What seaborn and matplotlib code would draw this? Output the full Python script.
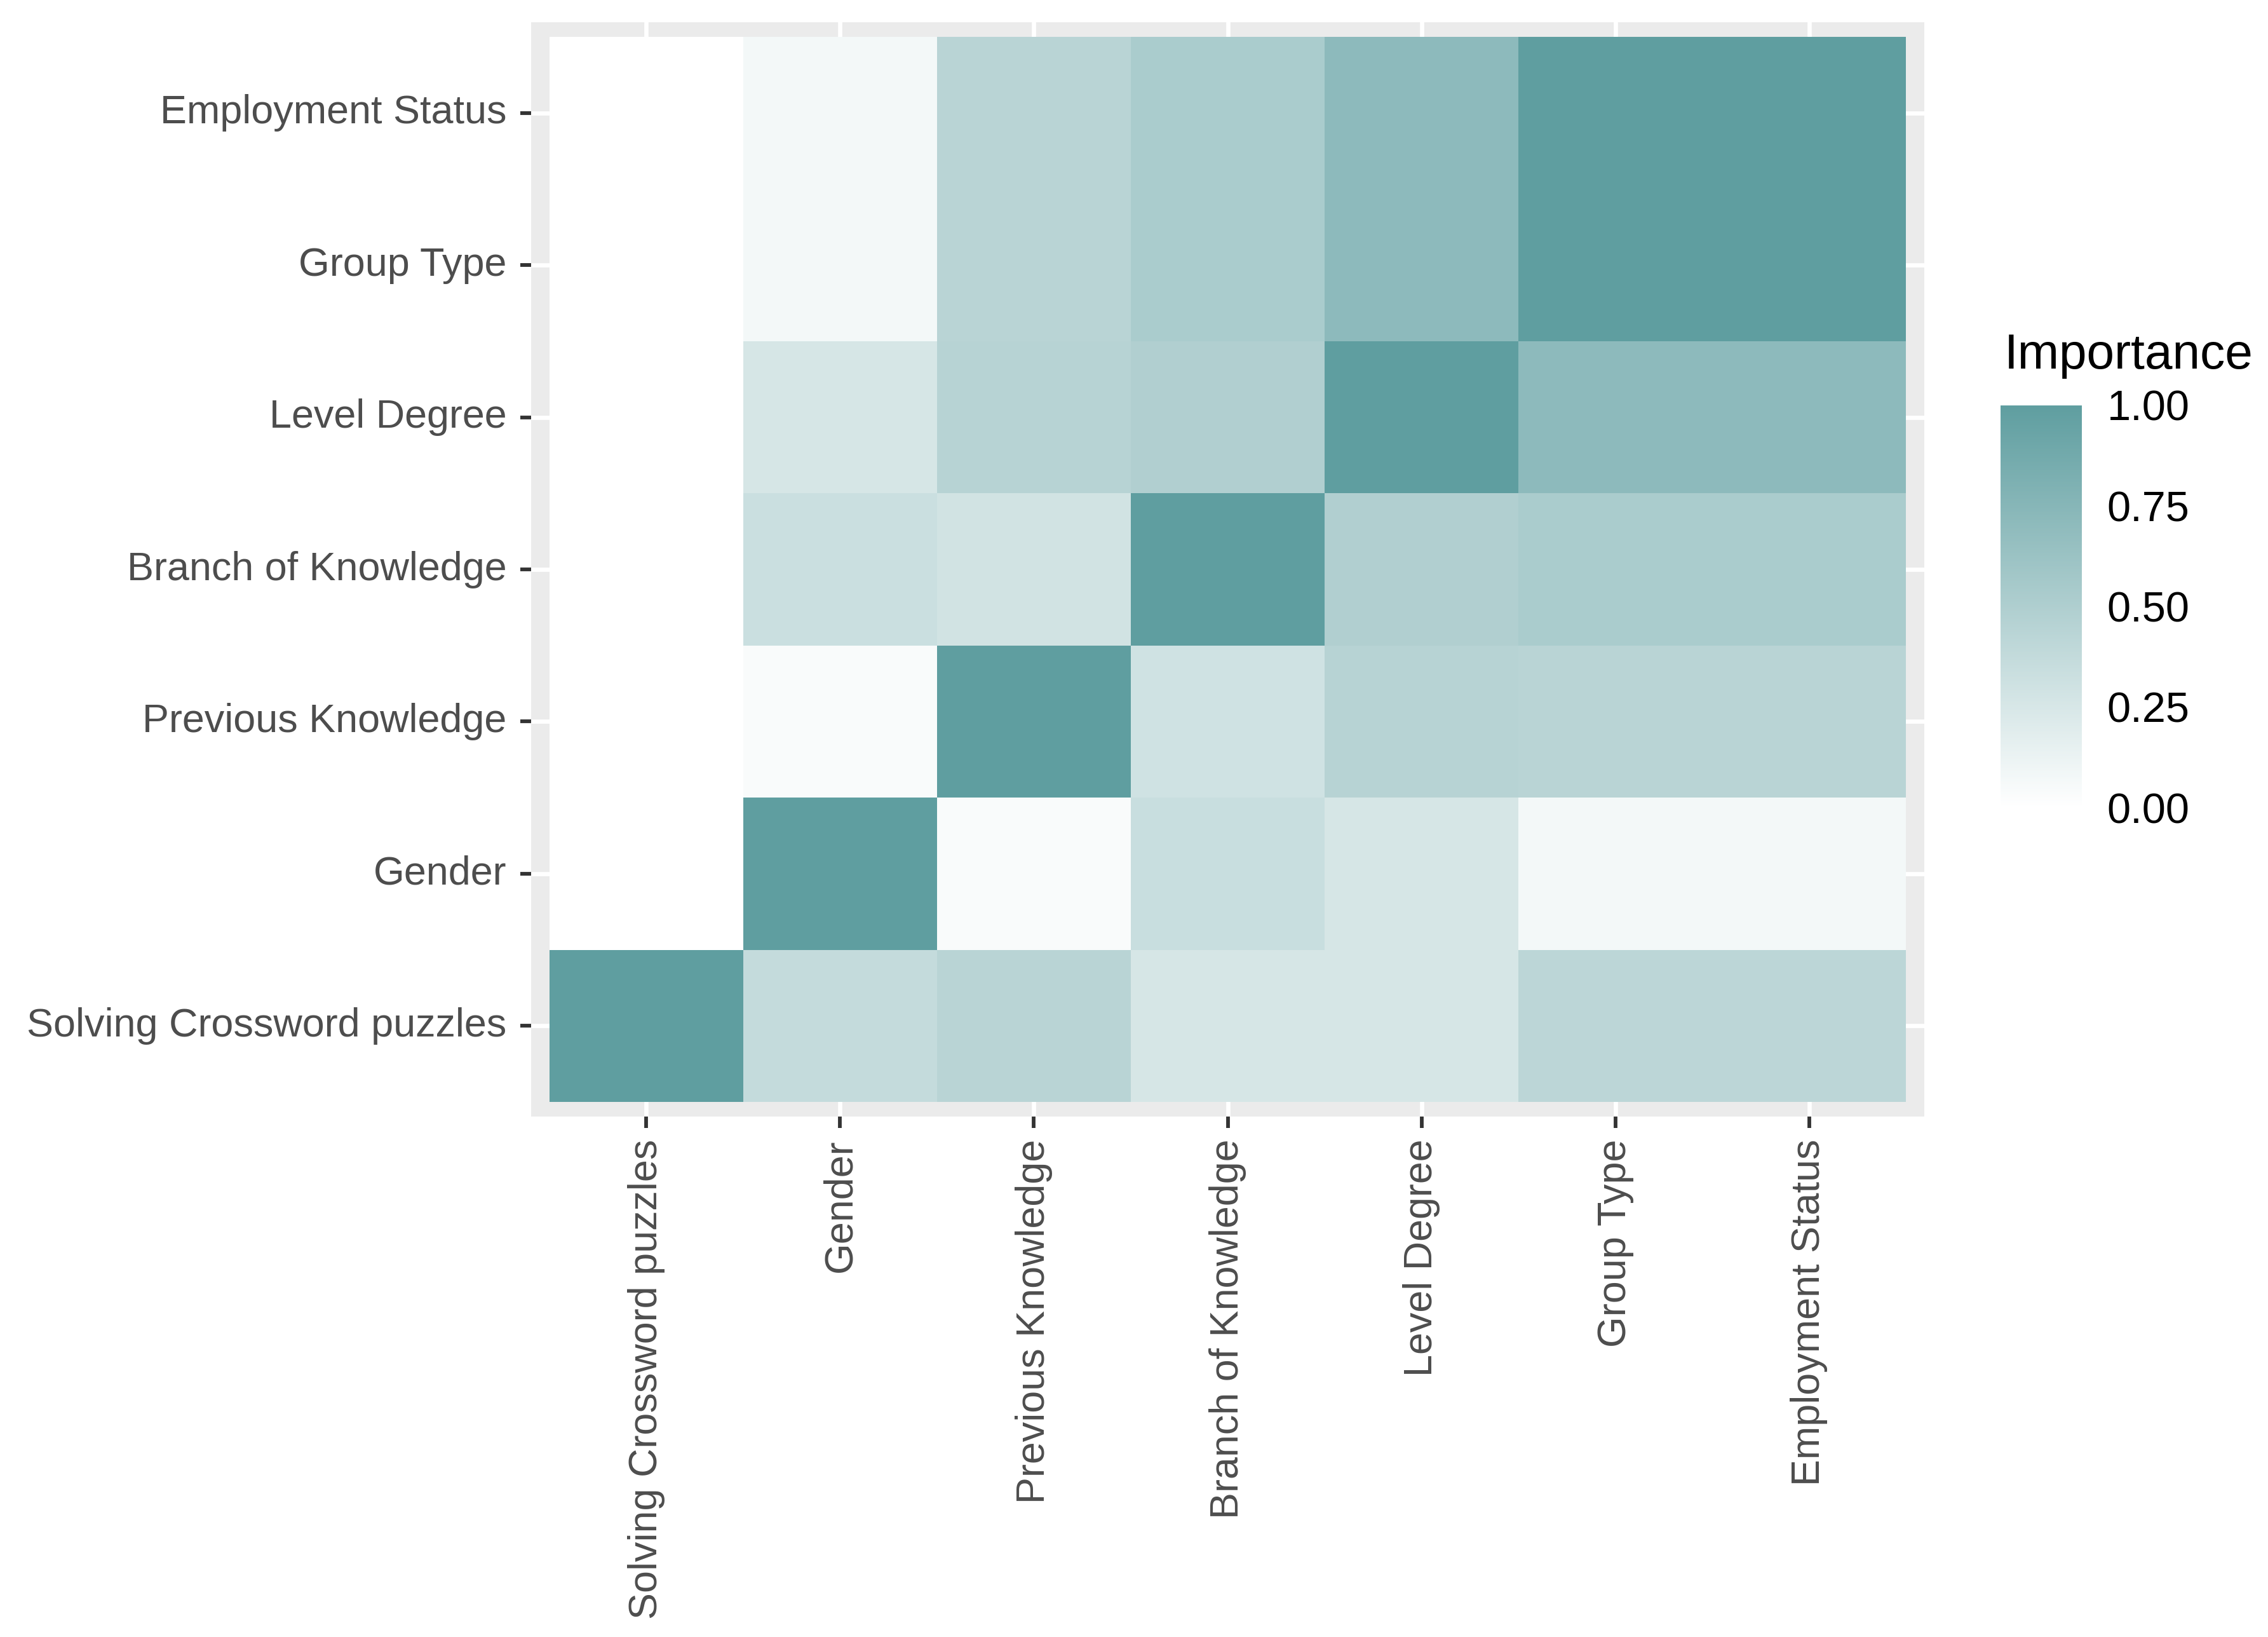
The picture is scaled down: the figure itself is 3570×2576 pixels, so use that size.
import numpy as np
import pandas as pd
import matplotlib
matplotlib.use("Agg")
import matplotlib.pyplot as plt
from matplotlib.colors import LinearSegmentedColormap
import seaborn as sns

# ---- data ----
row_labels = ["Employment Status", "Group Type", "Level Degree", "Branch of Knowledge",
              "Previous Knowledge", "Gender", "Solving Crossword puzzles"]
col_labels = ["Solving Crossword puzzles", "Gender", "Previous Knowledge",
              "Branch of Knowledge", "Level Degree", "Group Type", "Employment Status"]

employment_status = [0.00, 0.075, 0.44, 0.53, 0.71, 1.00, 1.00]
group_type        = [0.00, 0.075, 0.44, 0.53, 0.71, 1.00, 1.00]
level_degree      = [0.00, 0.26, 0.45, 0.49, 1.00, 0.71, 0.71]
branch_knowledge  = [0.00, 0.33, 0.29, 1.00, 0.49, 0.53, 0.53]
previous_knowledge= [0.00, 0.04, 1.00, 0.30, 0.45, 0.44, 0.44]
gender            = [0.00, 1.00, 0.04, 0.34, 0.26, 0.075, 0.075]
solving_crossword = [1.00, 0.37, 0.44, 0.26, 0.26, 0.42, 0.42]

cbar_ticks = [0.00, 0.25, 0.50, 0.75, 1.00]
legend_title = "Importance"

df = pd.DataFrame([employment_status, group_type, level_degree, branch_knowledge,
                   previous_knowledge, gender, solving_crossword],
                  index=row_labels, columns=col_labels)

# ---- style ----
sns.set_style("white")
plt.rcParams['font.family'] = ['Liberation Sans', 'DejaVu Sans']

W, H = 3570, 2576
dpi = 300
fig = plt.figure(figsize=(W / dpi, H / dpi), dpi=dpi)

ax = fig.add_axes([836 / W, 1 - 1757 / H, (3029 - 836) / W, (1757 - 35) / H])
cax = fig.add_axes([3149 / W, 1 - 1271 / H, 128 / W, (1271 - 638) / H])

cmap = LinearSegmentedColormap.from_list("imp", ["#FFFFFF", "#5F9EA0"])

sns.heatmap(df, ax=ax, cmap=cmap, vmin=0, vmax=1, cbar_ax=cax,
            linewidths=0, cbar_kws={"ticks": cbar_ticks})

m = 0.095
ax.set_xlim(-m, 7 + m)
ax.set_ylim(7 + m, -m)
ax.set_facecolor("#EBEBEB")
ax.set_axisbelow(True)
ax.grid(True, color="white", linewidth=1.6)
for s in ax.spines.values():
    s.set_visible(False)
ax.set_xlabel("")
ax.set_ylabel("")

ax.tick_params(axis="both", which="major", length=4.2, width=1.4, color="#333333",
               labelsize=15.1, labelcolor="#4D4D4D", direction="out",
               bottom=True, left=True)
ax.tick_params(axis="y", pad=5)
ax.tick_params(axis="x", pad=4.3)
plt.setp(ax.get_xticklabels(), rotation=90, ha="center", va="top")
plt.setp(ax.get_yticklabels(), rotation=0, ha="right", va="center")

# colorbar styling
cbar = ax.collections[0].colorbar
cbar.outline.set_visible(False)
cax.tick_params(which="major", direction="in", length=6.5, width=0.6, color="white",
                left=True, right=True, labelleft=False, labelright=True,
                labelsize=16, labelcolor="black", pad=9.5)
cax.set_yticklabels([f"{t:.2f}" for t in cbar_ticks])
for s in cax.spines.values():
    s.set_visible(False)

fig.text(3155 / W, 1 - 559 / H, legend_title, fontsize=18.8, color="black",
         ha="left", va="center")

fig.savefig("out.png", dpi=dpi, facecolor="white")
